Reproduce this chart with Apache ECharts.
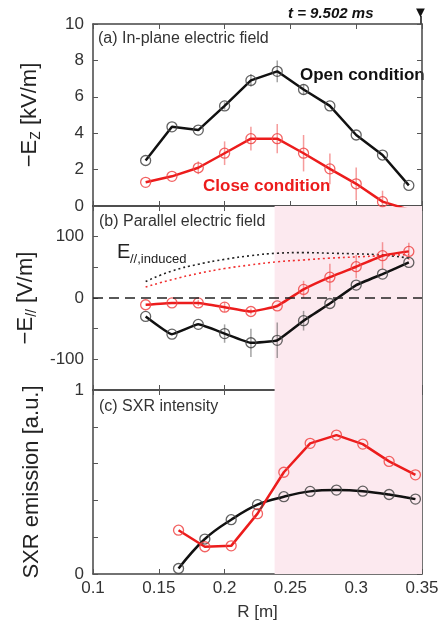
<!DOCTYPE html>
<html>
<head>
<meta charset="utf-8">
<script src="https://cdn.jsdelivr.net/npm/echarts@6/dist/echarts.min.js"></script>
<style>
  html, body { margin: 0; padding: 0; background: #fff; }
  #chart { width: 448px; height: 627px; }
</style>
</head>
<body>
<div id="chart"></div>
<script>
// R positions (m) for panels (a) and (b)
const rAB = [0.14, 0.16, 0.18, 0.2, 0.22, 0.24, 0.26, 0.28, 0.3, 0.32, 0.34]
// (a) -Ez [kV/m]
const openEz = [2.5, 4.35, 4.17, 5.5, 6.9, 7.4, 6.4, 5.5, 3.9, 2.8, 1.13]
const openEzErr = [0, 0, 0, 0.2, 0.35, 0.6, 0.3, 0, 0, 0, 0]
const closeEz = [1.3, 1.63, 2.1, 2.9, 3.7, 3.7, 2.9, 2.04, 1.22, 0.24, -0.2]
const closeEzErr = [0, 0, 0.35, 0.65, 0.65, 0.8, 1.0, 0.85, 0.9, 0.6, 0]
// (b) -E// [V/m]
const openEpar = [-30, -59, -43, -58, -73, -69, -37, -9, 21, 39, 58]
const openEparErr = [0, 0, 0, 15, 23, 29, 16, 0, 0, 0, 0]
const closeEpar = [-11, -8, -8, -15, -22, -13, 14, 34, 51, 69, 76]
const closeEparErr = [0, 0, 5, 8, 5, 0, 14, 22, 19, 22, 14]
const openInduced = [27, 44, 55, 63, 69, 73, 74, 73, 72, 70, 65]
const closeInduced = [18, 30, 40, 48, 54, 59, 62, 65, 67, 69, 71]
// (c) SXR emission [a.u.]
const rC = [0.165, 0.185, 0.205, 0.225, 0.245, 0.265, 0.285, 0.305, 0.325, 0.345]
const openSxr = [0.03, 0.19, 0.295, 0.377, 0.42, 0.449, 0.456, 0.45, 0.432, 0.407]
const closeSxr = [0.238, 0.148, 0.153, 0.328, 0.553, 0.71, 0.755, 0.706, 0.612, 0.539]
// shaded R range in (b) and (c)
const shadeFrom = 0.238
const shadeTo = 0.35

const BLACK = '#111'
const RED = '#ec1c1c'
const FONT = '"Liberation Sans", Arial, sans-serif'

const chart = echarts.init(document.getElementById('chart'))

const pairs = (xs, ys) => xs.map((x, i) => [x, ys[i]])

// x axis (bottom + top mirror) for one grid
const makeX = (g, position, labels) => ({
  gridIndex: g,
  type: 'value',
  position: position,
  min: 0.1,
  max: 0.35,
  interval: 0.05,
  name: labels ? 'R [m]' : '',
  nameLocation: 'middle',
  nameGap: 30,
  nameTextStyle: { fontFamily: FONT, fontSize: 17, color: '#333' },
  axisLine: { show: true, onZero: false, lineStyle: { color: '#444', width: 1.5 } },
  axisTick: { show: true, inside: true, length: 5, lineStyle: { color: '#555' } },
  axisLabel: {
    show: labels,
    fontFamily: FONT,
    fontSize: 17,
    color: '#333',
    margin: 6,
    formatter: (v) => String(+v.toFixed(2))
  },
  splitLine: { show: false }
})

const makeY = (g, position, min, max, interval, fmt, name) => ({
  gridIndex: g,
  type: 'value',
  position: position,
  min: min,
  max: max,
  interval: interval,
  name: name || '',
  nameLocation: 'middle',
  nameRotate: 90,
  nameGap: 50,
  nameTextStyle: {
    fontFamily: FONT,
    fontSize: 22,
    color: '#222',
    rich: {
      n: { fontFamily: FONT, fontSize: 22, color: '#222' },
      s: { fontFamily: FONT, fontSize: 14, color: '#222', padding: [12, 0, 0, 0] }
    }
  },
  axisLine: { show: true, onZero: false, lineStyle: { color: '#444', width: 1.5 } },
  axisTick: { show: true, inside: true, length: 5, lineStyle: { color: '#555' } },
  axisLabel: {
    show: position === 'left',
    fontFamily: FONT,
    fontSize: 17,
    color: '#333',
    margin: 9,
    formatter: fmt
  },
  splitLine: { show: false }
})

// data line with open circle markers
const dataLine = (g, xs, ys, color, smooth) => ({
  type: 'line',
  xAxisIndex: g * 2,
  yAxisIndex: g * 2,
  data: pairs(xs, ys),
  smooth: smooth || false,
  symbol: 'circle',
  symbolSize: 10,
  clip: true,
  z: 4,
  lineStyle: { color: color, width: 2.5 },
  itemStyle: {
    color: 'rgba(255,255,255,0)',
    borderColor: color === RED ? 'rgba(240,70,70,0.85)' : 'rgba(70,70,70,0.85)',
    borderWidth: 1.3
  }
})

// vertical error bars
const errBars = (g, xs, ys, errs, color) => ({
  type: 'custom',
  xAxisIndex: g * 2,
  yAxisIndex: g * 2,
  clip: true,
  z: 3,
  data: xs.map((x, i) => [x, ys[i] - errs[i], ys[i] + errs[i]]).filter((d, i) => errs[i] > 0),
  renderItem: (params, api) => {
    const lo = api.coord([api.value(0), api.value(1)])
    const hi = api.coord([api.value(0), api.value(2)])
    return {
      type: 'line',
      shape: { x1: lo[0], y1: lo[1], x2: hi[0], y2: hi[1] },
      style: { stroke: color, lineWidth: 1.5 }
    }
  }
})

const induced = (xs, ys, color) => ({
  type: 'line',
  xAxisIndex: 2,
  yAxisIndex: 2,
  data: pairs(xs, ys),
  smooth: true,
  symbol: 'none',
  z: 3,
  lineStyle: { color: color, width: 1.6, type: [2, 3] }
})

const shade = (g) => ({
  type: 'line',
  xAxisIndex: g * 2,
  yAxisIndex: g * 2,
  data: [],
  z: -1,
  silent: true,
  markArea: {
    silent: true,
    itemStyle: { color: '#fce9ef' },
    data: [[{ xAxis: shadeFrom }, { xAxis: shadeTo }]]
  }
})

const option = {
  backgroundColor: '#fff',
  animation: false,
  textStyle: { fontFamily: FONT },
  grid: [
    { left: 93, right: 26, top: 24, height: 182 },
    { left: 93, right: 26, top: 206, height: 184 },
    { left: 93, right: 26, top: 390, height: 184 }
  ],
  xAxis: [
    makeX(0, 'bottom', false), makeX(0, 'top', false),
    makeX(1, 'bottom', false), makeX(1, 'top', false),
    makeX(2, 'bottom', true), makeX(2, 'top', false)
  ],
  yAxis: [
    makeY(0, 'left', 0, 10, 2, (v) => v, '{n|−E}{s|Z}{n| [kV/m]}'),
    makeY(0, 'right', 0, 10, 2, (v) => v),
    makeY(1, 'left', -150, 150, 50, (v) => (v % 100 === 0 ? v : ''), '{n|−E}{s|//}{n| [V/m]}'),
    makeY(1, 'right', -150, 150, 50, (v) => v),
    makeY(2, 'left', 0, 1, 0.2, (v) => (v === 0 || Math.abs(v - 1) < 1e-6 ? Math.round(v) : ''), '{n|SXR emission [a.u.]}'),
    makeY(2, 'right', 0, 1, 0.2, (v) => v)
  ],
  series: [
    // (a)
    errBars(0, rAB, openEz, openEzErr, 'rgba(90,90,90,0.55)'),
    errBars(0, rAB, closeEz, closeEzErr, 'rgba(240,90,90,0.6)'),
    dataLine(0, rAB, openEz, BLACK),
    dataLine(0, rAB, closeEz, RED),
    // (b)
    shade(1),
    {
      type: 'line',
      xAxisIndex: 2,
      yAxisIndex: 2,
      data: [],
      markLine: {
        silent: true,
        symbol: 'none',
        label: { show: false },
        lineStyle: { color: '#222', width: 1.5, type: [10, 6] },
        data: [{ yAxis: 0 }]
      }
    },
    induced(rAB, openInduced, '#222'),
    induced(rAB, closeInduced, '#f03030'),
    errBars(1, rAB, openEpar, openEparErr, 'rgba(90,90,90,0.55)'),
    errBars(1, rAB, closeEpar, closeEparErr, 'rgba(240,90,90,0.6)'),
    dataLine(1, rAB, openEpar, BLACK, 0.1),
    dataLine(1, rAB, closeEpar, RED, 0.1),
    // (c)
    shade(2),
    dataLine(2, rC, openSxr, BLACK, 0.4),
    dataLine(2, rC, closeSxr, RED, false)
  ],
  graphic: [
    { type: 'text', left: 98, top: 31, style: { text: '(a) In-plane electric field', font: '16px ' + FONT, fill: '#333' } },
    { type: 'text', left: 99, top: 214, style: { text: '(b) Parallel electric field', font: '16px ' + FONT, fill: '#333' } },
    { type: 'text', left: 99, top: 399, style: { text: '(c) SXR intensity', font: '16px ' + FONT, fill: '#333' } },
    { type: 'text', left: 288, top: 6, style: { text: 't = 9.502 ms', font: 'italic bold 15px ' + FONT, fill: '#111' } },
    { type: 'text', left: 413, top: 5, style: { text: '▼', font: '15px ' + FONT, fill: '#111' } },
    { type: 'line', shape: { x1: 421, y1: 16, x2: 421, y2: 24 }, style: { stroke: '#111', lineWidth: 1.5 } },
    { type: 'text', left: 300, top: 67, style: { text: 'Open condition', font: 'bold 17px ' + FONT, fill: '#111' } },
    { type: 'text', left: 203, top: 178, style: { text: 'Close condition', font: 'bold 17px ' + FONT, fill: RED } },
    { type: 'text', left: 117, top: 242, style: { text: 'E', font: '20px ' + FONT, fill: '#222' } },
    { type: 'text', left: 130, top: 253, style: { text: '//,induced', font: '13px ' + FONT, fill: '#222' } },
    { type: 'text', left: 316, top: 325, style: { text: 'E', font: '20px ' + FONT, fill: '#222' } },
    { type: 'text', left: 329, top: 336, style: { text: '//,total', font: '13px ' + FONT, fill: '#222' } }
  ]
}

chart.setOption(option)
</script>
</body>
</html>
